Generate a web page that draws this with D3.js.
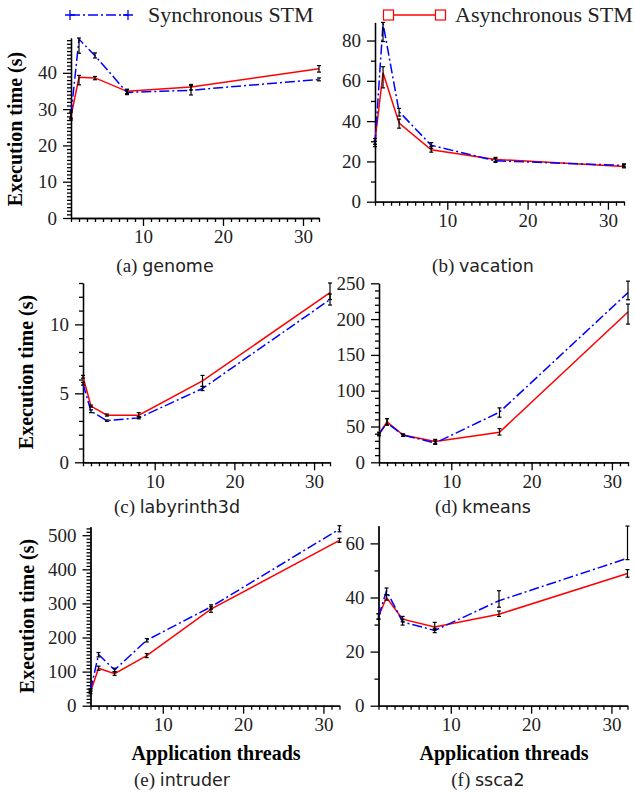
<!DOCTYPE html>
<html>
<head>
<meta charset="utf-8">
<script src="https://cdn.jsdelivr.net/npm/d3@7"></script>
<style>
body { margin: 0; background: #fff; }
text { font-family: "Liberation Serif", "Times New Roman", serif; }
.axis path, .axis line { stroke: #000; stroke-width: 1.3; }
.axis text { font-size: 19px; fill: #222; font-family: "Liberation Serif", serif; }
</style>
</head>
<body>
<script>
// threads on the x axis
var threads = [1, 2, 4, 8, 16, 32];

// execution times (s); errors are [low, high]
var genomeSync = [28.5, 49.3, 44.7, 34.6, 35.2, 38.2];
var genomeSyncErr = [[27.5, 29.8], [45.4, 49.6], [44.1, 45.5], [34.0, 35.3], [33.9, 36.5], [37.8, 38.6]];
var genomeAsync = [28.0, 38.8, 38.6, 34.9, 36.1, 41.1];
var genomeAsyncErr = [[27.0, 29.2], [36.7, 39.3], [38.1, 39.0], [34.3, 35.5], [35.3, 36.8], [40.2, 42.0]];

var vacationSync = [28.5, 88.5, 44.7, 28.0, 20.3, 18.0];
var vacationSyncErr = [[27.3, 30.0], [79.5, 89.0], [42.5, 46.3], [26.5, 29.3], [19.5, 21.5], [17.3, 18.8]];
var vacationAsync = [30.0, 64.0, 39.0, 25.8, 21.0, 17.5];
var vacationAsyncErr = [[28.5, 31.4], [56.5, 67.0], [36.5, 41.0], [24.6, 27.5], [20.0, 22.0], [16.8, 18.3]];

var labyrinthSync = [5.7, 3.7, 3.02, 3.22, 5.35, 11.8];
var labyrinthSyncErr = [[5.6, 5.8], [3.6, 3.8], [2.97, 3.07], [3.15, 3.3], [5.2, 5.5], [11.4, 12.2]];
var labyrinthAsync = [6.2, 4.08, 3.42, 3.42, 5.9, 12.3];
var labyrinthAsyncErr = [[6.1, 6.3], [4.0, 4.15], [3.35, 3.5], [3.3, 3.6], [5.5, 6.3], [11.8, 13.0]];

var kmeansSync = [39, 55, 38, 27, 70, 237];
var kmeansSyncErr = [[37, 41], [52, 61], [36.5, 39.5], [25, 30], [63, 76], [227, 253]];
var kmeansAsync = [40, 56.5, 38, 29, 42, 210];
var kmeansAsyncErr = [[38, 42], [52, 61], [36.5, 39.5], [26, 32], [38, 47], [193, 221]];

var intruderSync = [45, 150, 105, 192, 290, 518];
var intruderSyncErr = [[42, 50], [143, 156], [100, 110], [187, 197], [283, 296], [510, 528]];
var intruderAsync = [40, 110, 94, 147, 283, 485];
var intruderAsyncErr = [[35, 46], [104, 116], [89, 99], [141, 153], [274, 290], [479, 491]];

var sscaSync = [33, 42.5, 31, 27.8, 38.8, 54.5];
var sscaSyncErr = [[32, 34], [41, 43.5], [29.8, 32], [27, 28.6], [36.4, 42.5], [54, 66.4]];
var sscaAsync = [33, 40, 32, 29.1, 33.8, 48.9];
var sscaAsyncErr = [[32, 34], [39, 41], [31, 33], [28, 30.8], [33, 35], [47.5, 50.3]];

var legendNames = ["Synchronous STM", "Asynchronous STM"];

var panels = [
  { tag: "(a) ", name: "genome", sync: genomeSync, syncErr: genomeSyncErr, async: genomeAsync, asyncErr: genomeAsyncErr,
    yMax: 49.6, major: 10, minor: 1, xr: [71, 319], yr: [218, 38], cap: [165, 272], ylab: [22, 129] },
  { tag: "(b) ", name: "vacation", sync: vacationSync, syncErr: vacationSyncErr, async: vacationAsync, asyncErr: vacationAsyncErr,
    yMax: 89, major: 20, minor: 10, xr: [375, 624], yr: [201.7, 22.4], cap: [483, 272] },
  { tag: "(c) ", name: "labyrinth3d", sync: labyrinthSync, syncErr: labyrinthSyncErr, async: labyrinthAsync, asyncErr: labyrinthAsyncErr,
    yMax: 13, major: 5, minor: 1, xr: [83, 330], yr: [462.3, 283], cap: [177, 513], ylab: [33, 372] },
  { tag: "(d) ", name: "kmeans", sync: kmeansSync, syncErr: kmeansSyncErr, async: kmeansAsync, asyncErr: kmeansAsyncErr,
    yMax: 250, major: 50, minor: 10, xr: [379, 628], yr: [462.3, 283.3], cap: [483, 513] },
  { tag: "(e) ", name: "intruder", sync: intruderSync, syncErr: intruderSyncErr, async: intruderAsync, asyncErr: intruderAsyncErr,
    yMax: 525, major: 100, minor: 10, xr: [90.5, 339.5], yr: [705.7, 526.7], cap: [182, 786], ylab: [34, 616], xlab: [216, 760] },
  { tag: "(f) ", name: "ssca2", sync: sscaSync, syncErr: sscaSyncErr, async: sscaAsync, asyncErr: sscaAsyncErr,
    yMax: 66.5, major: 20, minor: 10, xr: [378.5, 627.5], yr: [705.7, 525.8], cap: [488, 786], xlab: [504, 760] }
];

var blue = "#0000ff", red = "#ff0000";

var svg = d3.select("body").append("svg")
    .attr("width", 635)
    .attr("height", 796);

panels.forEach(function (p) {
    var x = d3.scaleLinear().domain([1, 32]).range(p.xr);
    var y = d3.scaleLinear().domain([0, p.yMax]).range(p.yr);

    var majorY = d3.range(0, p.yMax + 0.001, p.major);
    var minorY = d3.range(0, p.yMax + 0.001, p.minor).filter(function (v) {
        return Math.abs(v / p.major - Math.round(v / p.major)) > 1e-6;
    });
    var minorX = d3.range(1, 33).filter(function (v) { return v % 10 != 0; });

    // minor ticks first, then the labelled axes over them
    svg.append("g").attr("class", "axis")
        .attr("transform", "translate(0," + p.yr[0] + ")")
        .call(d3.axisBottom(x).tickValues(minorX).tickSize(4).tickSizeOuter(0).tickFormat(""));
    svg.append("g").attr("class", "axis")
        .attr("transform", "translate(0," + p.yr[0] + ")")
        .call(d3.axisBottom(x).tickValues([10, 20, 30]).tickSize(8).tickSizeOuter(0).tickPadding(4));
    svg.append("g").attr("class", "axis")
        .attr("transform", "translate(" + p.xr[0] + ",0)")
        .call(d3.axisLeft(y).tickValues(minorY).tickSize(4).tickSizeOuter(0).tickFormat(""));
    svg.append("g").attr("class", "axis")
        .attr("transform", "translate(" + p.xr[0] + ",0)")
        .call(d3.axisLeft(y).tickValues(majorY).tickSize(8).tickSizeOuter(0).tickPadding(6));

    var line = d3.line()
        .x(function (d, i) { return x(threads[i]); })
        .y(function (d) { return y(d); });

    svg.append("path").datum(p.async)
        .attr("d", line)
        .attr("fill", "none").attr("stroke", red).attr("stroke-width", 1.5);
    svg.append("path").datum(p.sync)
        .attr("d", line)
        .attr("fill", "none").attr("stroke", blue).attr("stroke-width", 1.5)
        .attr("stroke-dasharray", "10,3,2,3");

    // error bars
    [p.syncErr, p.asyncErr].forEach(function (err) {
        var g = svg.append("g").attr("stroke", "#000").attr("stroke-width", 1.2);
        err.forEach(function (e, i) {
            var cx = x(threads[i]);
            g.append("line").attr("x1", cx).attr("x2", cx).attr("y1", y(e[0])).attr("y2", y(e[1]));
            g.append("line").attr("x1", cx - 2).attr("x2", cx + 2).attr("y1", y(e[0])).attr("y2", y(e[0]));
            g.append("line").attr("x1", cx - 2).attr("x2", cx + 2).attr("y1", y(e[1])).attr("y2", y(e[1]));
        });
    });

    var cap = svg.append("text")
        .attr("x", p.cap[0]).attr("y", p.cap[1])
        .attr("text-anchor", "middle")
        .attr("font-size", 19).attr("fill", "#222");
    cap.append("tspan").text(p.tag);
    cap.append("tspan").attr("font-family", "'DejaVu Sans', sans-serif").attr("font-size", 17.5).text(p.name);

    if (p.ylab) {
        svg.append("text")
            .attr("transform", "translate(" + p.ylab[0] + "," + p.ylab[1] + ") rotate(-90)")
            .attr("text-anchor", "middle")
            .attr("font-size", 20).attr("font-weight", "bold")
            .text("Execution time (s)");
    }
    if (p.xlab) {
        svg.append("text")
            .attr("x", p.xlab[0]).attr("y", p.xlab[1])
            .attr("text-anchor", "middle")
            .attr("font-size", 20).attr("font-weight", "bold")
            .text("Application threads");
    }
});

// legend
var leg = svg.append("g");
leg.append("line").attr("x1", 70).attr("x2", 128).attr("y1", 15).attr("y2", 15)
    .attr("stroke", blue).attr("stroke-width", 1.5).attr("stroke-dasharray", "10,3,2,3");
[70, 128].forEach(function (cx) {
    leg.append("path").attr("d", "M" + (cx - 5) + ",15H" + (cx + 5) + "M" + cx + ",10V20")
        .attr("stroke", blue).attr("stroke-width", 1.3);
});
leg.append("text").attr("x", 148).attr("y", 22).attr("font-size", 22).attr("fill", "#222").text(legendNames[0]);

leg.append("line").attr("x1", 388).attr("x2", 441).attr("y1", 15).attr("y2", 15)
    .attr("stroke", red).attr("stroke-width", 1.5);
[388.5, 440.5].forEach(function (cx) {
    leg.append("rect").attr("x", cx - 5).attr("y", 10).attr("width", 10).attr("height", 10)
        .attr("fill", "#fff").attr("stroke", red).attr("stroke-width", 1.2);
});
leg.append("text").attr("x", 455).attr("y", 22).attr("font-size", 22).attr("fill", "#222").text(legendNames[1]);
</script>
</body>
</html>
